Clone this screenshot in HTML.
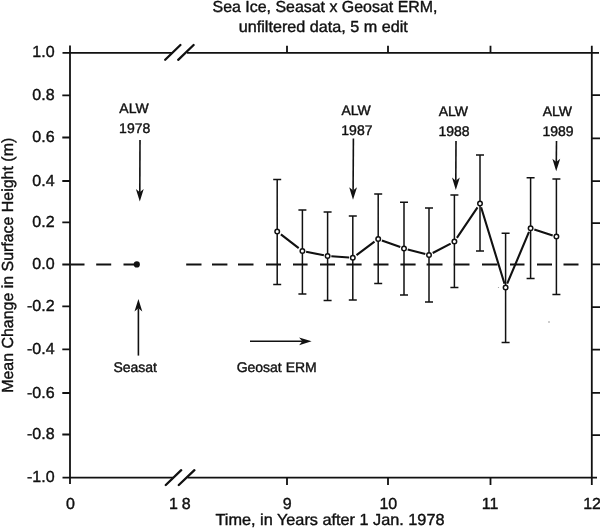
<!DOCTYPE html>
<html lang="en"><head><meta charset="utf-8"><title>Sea Ice, Seasat x Geosat ERM</title>
<style>html,body{margin:0;padding:0;background:#fff}body{width:600px;height:529px;overflow:hidden}svg{display:block;filter:grayscale(1)}text{font-family:"Liberation Sans",Arial,Helvetica,sans-serif;fill:#111;stroke:#111;stroke-width:.4px;stroke-linejoin:round;text-rendering:geometricPrecision}.t16{font-size:16px}.t14{font-size:14px}.ax{stroke:#111;stroke-width:1.8;fill:none}.eb{stroke:#111;stroke-width:1.5;fill:none}.dl{stroke:#111;stroke-width:2.1;fill:none;stroke-linecap:butt}.ds{stroke:#111;stroke-width:1.9;fill:none}.ar{stroke:#111;stroke-width:1.6;fill:none}.ah{fill:#111;stroke:none}.mk{fill:#fff;stroke:#111;stroke-width:1.5}</style></head><body>
<svg width="600" height="529" viewBox="0 0 600 529">
<rect x="0" y="0" width="600" height="529" fill="#fff"/>
<text class="t16" x="325" y="12" text-anchor="middle" textLength="225" lengthAdjust="spacingAndGlyphs">Sea Ice, Seasat x Geosat ERM,</text>
<text class="t16" x="323.3" y="31.5" text-anchor="middle" textLength="169" lengthAdjust="spacingAndGlyphs">unfiltered data, 5 m edit</text>
<path class="ax" d="M62.5 52.8H172.5M187 52.8H599"/>
<path class="ax" d="M62.5 477.6H173.5M187.5 477.6H597"/>
<path class="ax" d="M70 45.5V484"/>
<path class="ax" d="M591.8 45.8V485"/>
<path d="M165.2 59.8L180.4 45M178.2 59.8L193.6 45M165.8 485L181.2 470.2M178.8 485L194.4 470.2" stroke="#111" stroke-width="2.3" fill="none" stroke-linecap="round"/>
<path class="ax" d="M62.3 95.3H70M592 95.2H600M62.3 137.5H70M592 138.4H600M62.3 181H70M592 181.2H600M62.3 222.3H70M592 223.2H600M62.3 264.5H70M592 264.4H600M62.3 306.3H70M592 307.1H600M62.3 349.3H70M592 349.7H600M62.3 393H70M592 392.9H600M62.3 434.5H70M592 435.1H600"/>
<path class="ax" d="M287 45.8V52.8M287 477.6V485M388 45.8V52.8M388 477.6V485M490.5 45.8V52.8M490.5 477.6V485"/>
<text class="t16" x="54.6" y="57.2" text-anchor="end">1.0</text>
<text class="t16" x="54.6" y="100.0" text-anchor="end">0.8</text>
<text class="t16" x="54.6" y="142.2" text-anchor="end">0.6</text>
<text class="t16" x="54.6" y="185.7" text-anchor="end">0.4</text>
<text class="t16" x="54.6" y="227.0" text-anchor="end">0.2</text>
<text class="t16" x="54.6" y="269.2" text-anchor="end">0.0</text>
<text class="t16" x="54.6" y="311.0" text-anchor="end">-0.2</text>
<text class="t16" x="54.6" y="354.0" text-anchor="end">-0.4</text>
<text class="t16" x="54.6" y="397.7" text-anchor="end">-0.6</text>
<text class="t16" x="54.6" y="439.2" text-anchor="end">-0.8</text>
<text class="t16" x="54.6" y="482.2" text-anchor="end">-1.0</text>
<text class="t16" x="70.5" y="508.8" text-anchor="middle">0</text>
<text class="t16" x="173.5" y="508.8" text-anchor="middle">1</text>
<text class="t16" x="186.3" y="508.8" text-anchor="middle">8</text>
<text class="t16" x="287.3" y="508.8" text-anchor="middle">9</text>
<text class="t16" x="388.3" y="508.8" text-anchor="middle">10</text>
<text class="t16" x="490" y="508.8" text-anchor="middle">11</text>
<text class="t16" x="583.2" y="508.8" text-anchor="start">12</text>
<text class="t16" x="330" y="524.5" text-anchor="middle" textLength="229" lengthAdjust="spacingAndGlyphs">Time, in Years after 1 Jan. 1978</text>
<text class="t16" transform="translate(13.4 265.3) rotate(-90)" text-anchor="middle" textLength="255" lengthAdjust="spacingAndGlyphs">Mean Change in Surface Height (m)</text>
<path class="ds" d="M70.5 264.5H84.5M96.2 264.5H111.2M123.5 264.5H136.5M186.2 264.5H201.5M212 264.5H227.4M238 264.5H253.5M266 264.5H281M293 264.5H307.6M320 264.5H335M346.4 264.5H361.6M373.5 264.5H388.5M400.4 264.5H415.6M426.6 264.5H442.5M453.7 264.5H469.5M482 264.5H497.5M510 264.5H524.5M537 264.5H552M563.5 264.5H578.5"/>
<path class="eb" d="M277.2 179.4V284.4M273.2 179.4H281.2M273.2 284.4H281.2M302.4 210.0V294.0M298.4 210.0H306.4M298.4 294.0H306.4M327.6 212.0V300.4M323.6 212.0H331.6M323.6 300.4H331.6M352.8 216.0V300.0M348.8 216.0H356.8M348.8 300.0H356.8M378.2 194.0V283.6M374.2 194.0H382.2M374.2 283.6H382.2M404.0 202.2V294.9M400.0 202.2H408.0M400.0 294.9H408.0M429.0 208.0V302.0M425.0 208.0H433.0M425.0 302.0H433.0M454.4 195.0V287.5M450.4 195.0H458.4M450.4 287.5H458.4M480.0 155.0V251.0M476.0 155.0H484.0M476.0 251.0H484.0M505.6 233.2V342.6M501.6 233.2H509.6M501.6 342.6H509.6M530.6 177.8V278.6M526.6 177.8H534.6M526.6 278.6H534.6M556.4 179.0V294.4M552.4 179.0H560.4M552.4 294.4H560.4"/>
<path class="dl" d="M280.9 234.4L298.7 248.2M306.1 251.7L323.9 255.3M331.3 256.3L349.1 257.5M356.5 255.1L374.5 241.7M381.9 240.4L400.3 247.1M407.7 249.5L425.3 254.0M432.7 253.0L450.7 243.6M456.9 237.9L477.5 207.3M481.1 207.3L504.5 283.7M507.2 283.7L529.0 231.9M534.3 229.4L552.7 235.4"/>
<circle class="mk" cx="277.2" cy="231.6" r="2.25"/>
<circle class="mk" cx="302.4" cy="251.0" r="2.25"/>
<circle class="mk" cx="327.6" cy="256.0" r="2.25"/>
<circle class="mk" cx="352.8" cy="257.8" r="2.25"/>
<circle class="mk" cx="378.2" cy="239.0" r="2.25"/>
<circle class="mk" cx="404.0" cy="248.5" r="2.25"/>
<circle class="mk" cx="429.0" cy="255.0" r="2.25"/>
<circle class="mk" cx="454.4" cy="241.6" r="2.25"/>
<circle class="mk" cx="480.0" cy="203.6" r="2.25"/>
<circle class="mk" cx="505.6" cy="287.4" r="2.25"/>
<circle class="mk" cx="530.6" cy="228.2" r="2.25"/>
<circle class="mk" cx="556.4" cy="236.6" r="2.25"/>
<circle cx="136.8" cy="264.4" r="3.1" fill="#111"/>
<path class="ar" d="M140.0 140.0L139.8 192.3"/>
<path class="ah" d="M139.8 201.6L135.9 189.1L139.8 192.3L143.7 189.1Z"/>
<path class="ar" d="M353.4 138.5L353.1 190.5"/>
<path class="ah" d="M353.0 199.8L349.2 187.3L353.1 190.5L357.0 187.3Z"/>
<path class="ar" d="M456.0 141.0L455.8 180.7"/>
<path class="ah" d="M455.8 190.0L452.0 177.5L455.8 180.7L459.8 177.5Z"/>
<path class="ar" d="M556.5 141.0L556.3 161.9"/>
<path class="ah" d="M556.2 171.2L552.4 158.7L556.3 161.9L560.2 158.7Z"/>
<path class="ar" d="M138.4 355.6L138.4 308.3"/>
<path class="ah" d="M138.4 299.0L142.3 311.5L138.4 308.3L134.5 311.5Z"/>
<path class="ar" d="M250.0 341.3L302.3 341.3"/>
<path class="ah" d="M311.6 341.3L299.1 345.2L302.3 341.3L299.1 337.4Z"/>
<text class="t14" x="134" y="113.2" text-anchor="middle">ALW</text>
<text class="t14" x="134.7" y="133" text-anchor="middle">1978</text>
<text class="t14" x="356.2" y="115" text-anchor="middle">ALW</text>
<text class="t14" x="356.9" y="135" text-anchor="middle">1987</text>
<text class="t14" x="453.4" y="116" text-anchor="middle">ALW</text>
<text class="t14" x="454.09999999999997" y="135.7" text-anchor="middle">1988</text>
<text class="t14" x="557.3" y="115.6" text-anchor="middle">ALW</text>
<text class="t14" x="558.0" y="136" text-anchor="middle">1989</text>
<text class="t14" x="135.2" y="371.5" text-anchor="middle">Seasat</text>
<text class="t14" x="276.7" y="371.7" text-anchor="middle">Geosat ERM</text>
<circle cx="549" cy="322" r="0.7" fill="#777"/><circle cx="498.5" cy="287.5" r="0.6" fill="#999"/>
</svg></body></html>
